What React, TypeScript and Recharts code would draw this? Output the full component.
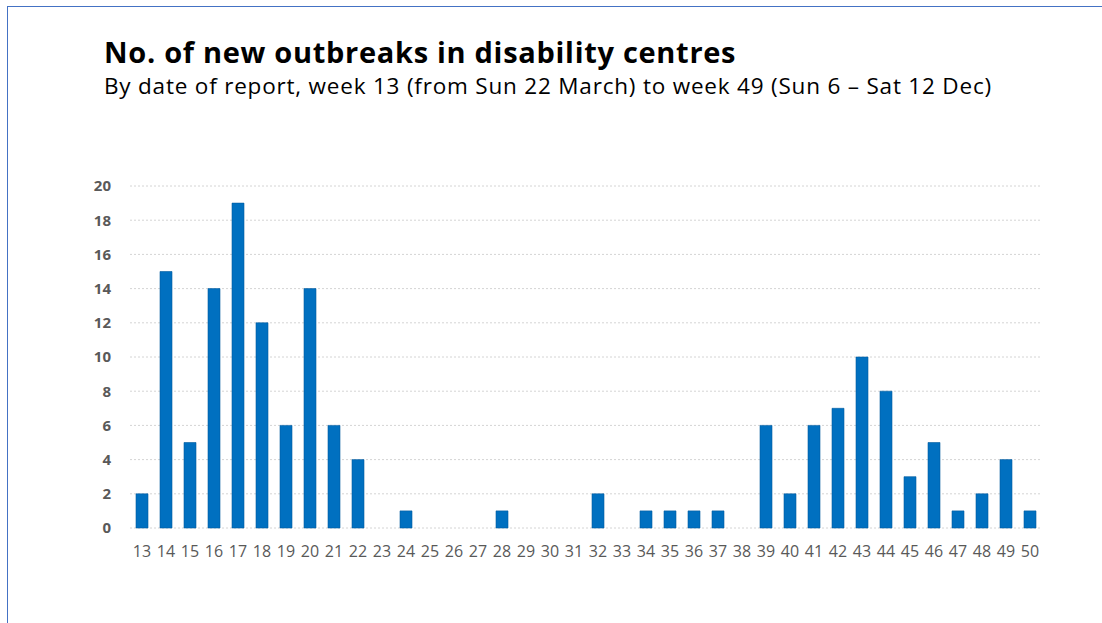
import { BarChart, Bar, XAxis, YAxis, CartesianGrid } from "recharts"

const weeks = [
  "13", "14", "15", "16", "17", "18", "19", "20", "21", "22",
  "23", "24", "25", "26", "27", "28", "29", "30", "31", "32",
  "33", "34", "35", "36", "37", "38", "39", "40", "41", "42",
  "43", "44", "45", "46", "47", "48", "49", "50"
]

const outbreaks = [
  2, 15, 5, 14, 19, 12, 6, 14, 6, 4,
  0, 1, 0, 0, 0, 1, 0, 0, 0, 2,
  0, 1, 1, 1, 1, 0, 6, 2, 6, 7,
  10, 8, 3, 5, 1, 2, 4, 1
]

const yTicks = [0, 2, 4, 6, 8, 10, 12, 14, 16, 18, 20]

const data = weeks.map((week, i) => ({ week, count: outbreaks[i] }))

const FONT = "'Open Sans', 'Noto Sans', sans-serif"

export default function App() {
  return (
    <div
      style={{
        position: "absolute",
        left: 0,
        top: 0,
        width: 1102,
        height: 623,
        background: "#fff",
        overflow: "hidden",
        fontFamily: FONT
      }}
    >
      {/* frame */}
      <div
        style={{
          position: "absolute",
          left: 7,
          top: 6,
          width: 1110,
          height: 640,
          borderLeft: "1.5px solid #4472c4",
          borderTop: "1.5px solid #4472c4"
        }}
      />

      <div
        style={{
          position: "absolute",
          left: 104,
          top: 37,
          fontSize: 29,
          lineHeight: 1,
          fontWeight: 700,
          color: "#000",
          whiteSpace: "nowrap",
          letterSpacing: 0.7
        }}
      >
        No. of new outbreaks in disability centres
      </div>
      <div
        style={{
          position: "absolute",
          left: 104,
          top: 75,
          fontSize: 22.5,
          lineHeight: 1,
          color: "#000",
          whiteSpace: "nowrap",
          letterSpacing: 0.8
        }}
      >
        By date of report, week 13 (from Sun 22 March) to week 49 (Sun 6 – Sat 12 Dec)
      </div>

      <div style={{ position: "absolute", left: 0, top: 0 }}>
        <BarChart
          width={1102}
          height={623}
          data={data}
          margin={{ top: 186, right: 60, bottom: 65, left: 90 }}
          barCategoryGap={0}
        >
          <CartesianGrid
            vertical={false}
            stroke="#d4d4d4"
            strokeDasharray="2 2"
          />
          <XAxis
            dataKey="week"
            height={30}
            axisLine={false}
            tickLine={false}
            interval={0}
            tick={{ fill: "#595959", fontSize: 16, fontFamily: FONT }}
            tickMargin={12}
          />
          <YAxis
            width={40}
            domain={[0, 20]}
            ticks={yTicks}
            interval={0}
            axisLine={false}
            tickLine={false}
            tick={{ fill: "#595959", fontSize: 15, fontWeight: 700, fontFamily: FONT }}
            tickMargin={13}
          />
          <Bar
            dataKey="count"
            fill="#0070c0"
            stroke="#005a9e"
            strokeWidth={0.6}
            barSize={12}
            isAnimationActive={false}
          />
        </BarChart>
      </div>
    </div>
  )
}
